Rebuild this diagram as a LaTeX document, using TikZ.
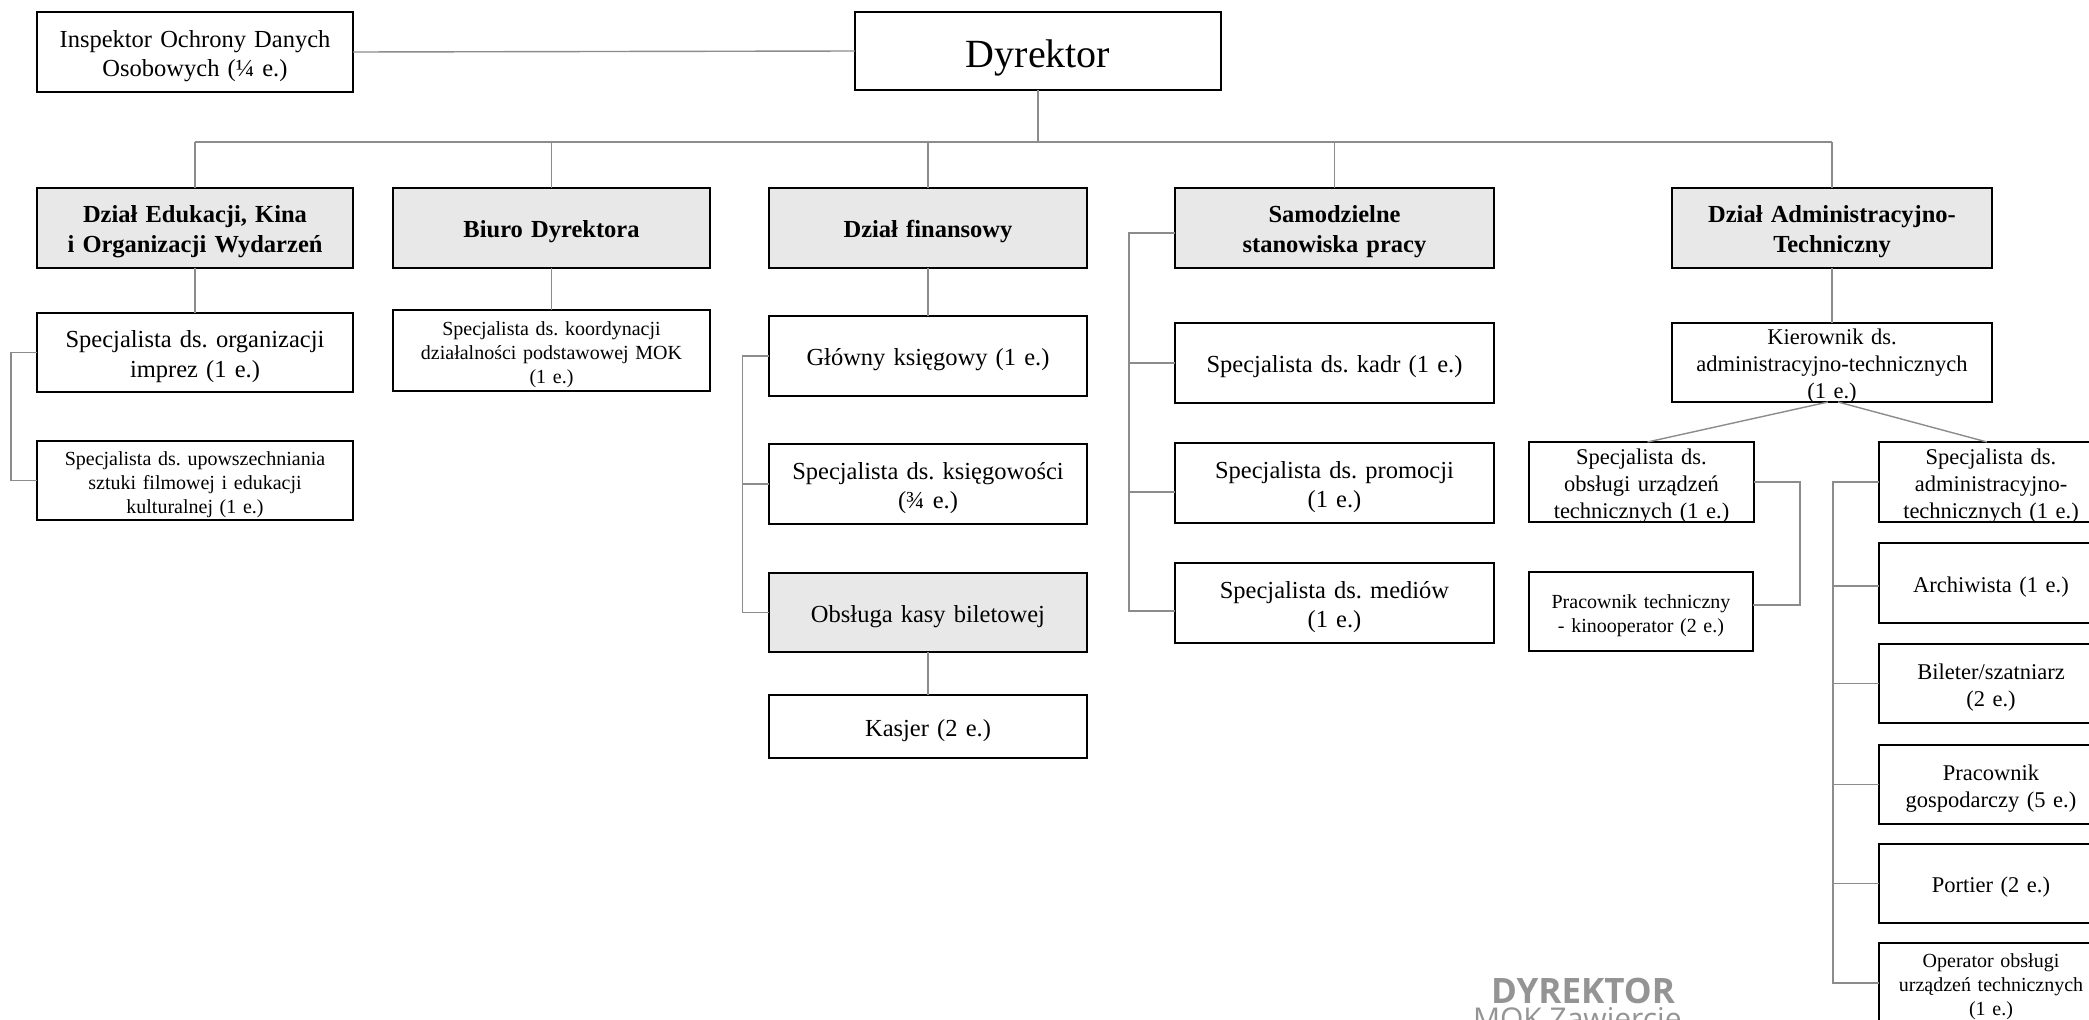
\documentclass[tikz,border=0pt]{standalone}
\usepackage{fontspec}
\setmainfont{Liberation Serif}
\newfontfamily\stampfont{Open Sans}
\frenchspacing
\newcommand\myfA{\fontsize{24.5}{29.5}\selectfont}
\newcommand\myfB{\fontsize{22.5}{27}\selectfont}
\newcommand\myfC{\fontsize{20}{24}\selectfont}
\newcommand\myfD{\fontsize{24.5}{30}\selectfont\bfseries}
\newcommand\myfE{\fontsize{40}{48}\selectfont}
% name, x1, y1, x2, y2, frame style, text style, text
\newcommand\bx[8]{%
  \pgfmathsetmacro\bxw{#4-#2}\pgfmathsetmacro\bxh{#5-#3}%
  \node[#6, minimum width=\bxw pt, minimum height=\bxh pt] (#1) at ({(#2+#4)/2},{(#3+#5)/2}) {};
  \node[#7, text width=\bxw pt] (#1-t) at ([yshift=-4pt]#1.center) {#8};}
\begin{document}
\begin{tikzpicture}[x=1pt,y=-1pt,
  frame/.style={draw=black, line width=2.6pt, fill=white, inner sep=0pt, outer sep=0pt},
  gframe/.style={frame, fill=black!9},
  txt/.style={inner sep=0pt, outer sep=0pt, align=center},
  tA/.style={txt, font=\myfA},
  tB/.style={txt, font=\myfB},
  tC/.style={txt, font=\myfC},
  tD/.style={txt, font=\myfD},
  tE/.style={txt, font=\myfE, yshift=-3pt},
  conn/.style={draw=black!45, line width=1.4pt},
  stamp/.style={inner sep=0pt, outer sep=0pt, text=black!42, anchor=base west}]
\useasboundingbox (0,0) rectangle (2089,1020);
\clip (0,0) rectangle (2089,1020);
\fill[white] (0,0) rectangle (2089,1020);

% top level
\bx{insp}{37}{12}{353}{92}{frame}{tA}{Inspektor Ochrony Danych\\Osobowych (¼ e.)}
\bx{dyr}{855}{12}{1221}{90}{frame}{tE}{Dyrektor}

% departments
\bx{edu}{37}{188}{353}{268}{gframe}{tD}{Dział Edukacji, Kina\\i Organizacji Wydarzeń}
\bx{biuro}{393}{188}{710}{268}{gframe}{tD}{Biuro Dyrektora}
\bx{fin}{769}{188}{1087}{268}{gframe}{tD}{Dział finansowy}
\bx{samodz}{1175}{188}{1494}{268}{gframe}{tD}{Samodzielne\\stanowiska pracy}
\bx{adm}{1672}{188}{1992}{268}{gframe}{tD}{Dział Administracyjno-\\Techniczny}

% column 1
\bx{org}{37}{313}{353}{392}{frame}{tA}{Specjalista ds. organizacji\\imprez (1 e.)}
\bx{upo}{37}{441}{353}{520}{frame}{tC}{Specjalista ds. upowszechniania\\sztuki filmowej i edukacji\\kulturalnej (1 e.)}

% column 2
\bx{koord}{393}{310}{710}{391}{frame}{tC}{Specjalista ds. koordynacji\\działalności podstawowej MOK\\(1 e.)}

% column 3
\bx{glow}{769}{316}{1087}{396}{frame}{tA}{Główny księgowy (1 e.)}
\bx{ksieg}{769}{444}{1087}{524}{frame}{tA}{Specjalista ds. księgowości\\(¾ e.)}
\bx{kasa}{769}{573}{1087}{652}{gframe}{tA}{Obsługa kasy biletowej}
\bx{kasjer}{769}{695}{1087}{758}{frame}{tA}{Kasjer (2 e.)}

% column 4
\bx{kadr}{1175}{323}{1494}{403}{frame}{tA}{Specjalista ds. kadr (1 e.)}
\bx{prom}{1175}{443}{1494}{523}{frame}{tA}{Specjalista ds. promocji\\(1 e.)}
\bx{med}{1175}{563}{1494}{643}{frame}{tA}{Specjalista ds. mediów\\(1 e.)}

% column 5
\bx{kier}{1672}{323}{1992}{402}{frame}{tB}{Kierownik ds.\\administracyjno-technicznych\\(1 e.)}
\bx{obs}{1529}{442}{1754}{522}{frame}{tB}{Specjalista ds.\\obsługi urządzeń\\technicznych (1 e.)}
\bx{kino}{1529}{572}{1753}{651}{frame}{tC}{Pracownik techniczny\\- kinooperator (2 e.)}
\bx{sadm}{1879}{442}{2103}{522}{frame}{tB}{Specjalista ds.\\administracyjno-\\technicznych (1 e.)}
\bx{arch}{1879}{543}{2103}{623}{frame}{tB}{Archiwista (1 e.)}
\bx{bil}{1879}{644}{2103}{723}{frame}{tB}{Bileter/szatniarz\\(2 e.)}
\bx{gosp}{1879}{745}{2103}{824}{frame}{tB}{Pracownik\\gospodarczy (5 e.)}
\bx{port}{1879}{844}{2103}{923}{frame}{tB}{Portier (2 e.)}
\bx{oper}{1879}{943}{2103}{1023}{frame}{tC}{Operator obsługi\\urządzeń technicznych\\(1 e.)}

% stamp
\node[stamp, font=\stampfont\bfseries\fontsize{35}{38}\selectfont] (st1) at (1491,1003) {DYREKTOR};
\node[stamp, font=\stampfont\fontsize{30}{34}\selectfont] (st2) at (1473,1029) {MOK Zawiercie};

% connectors
\coordinate (busL) at (195,142);
\draw[conn] (insp.east) -- (dyr.west);
\draw[conn] (dyr.south) -- (dyr.south |- busL);
\draw[conn] (edu.north |- busL) -- (adm.north |- busL);
\foreach \d in {edu,biuro,fin,samodz,adm}{\draw[conn] (\d.north) -- (\d.north |- busL);}

\draw[conn] (edu.south) -- (org.north);
\draw[conn] (org.west) -- ++(-26,0) |- (upo.west);

\draw[conn] (biuro.south) -- (koord.north);

\draw[conn] (fin.south) -- (glow.north);
\draw[conn] (glow.west) -- ++(-26.5,0) coordinate (fb) |- (kasa.west);
\draw[conn] (fb |- ksieg.west) -- (ksieg.west);
\draw[conn] (kasa.south) -- (kasjer.north);

\coordinate (samT) at ([yshift=-5pt]samodz.west);
\coordinate (promT) at ([yshift=-9pt]prom.west);
\coordinate (medT) at ([yshift=-8pt]med.west);
\draw[conn] (samT) -- ++(-46,0) coordinate (sb) |- (medT);
\draw[conn] (sb |- kadr.west) -- (kadr.west);
\draw[conn] (sb |- promT) -- (promT);

\draw[conn] (adm.south) -- (kier.north);
\draw[conn] ([xshift=-4pt]kier.south) -- ([xshift=6pt]obs.north);
\draw[conn] ([xshift=6pt]kier.south) -- ([xshift=-4pt]sadm.north);

\coordinate (kinoT) at ([yshift=6.5pt]kino.east);
\draw[conn] (obs.east) -- ++(46,0) |- (kinoT);

\coordinate (archT) at ([yshift=-3pt]arch.west);
\draw[conn] (sadm.west) -- ++(-46,0) coordinate (ab) |- (oper.west);
\draw[conn] (ab |- archT) -- (archT);
\foreach \b in {bil,gosp,port}{\draw[conn] (ab |- \b.west) -- (\b.west);}
\end{tikzpicture}
\end{document}
